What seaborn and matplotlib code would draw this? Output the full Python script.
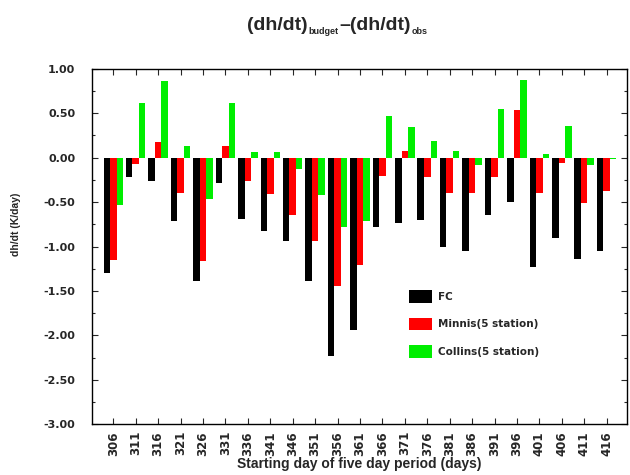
import matplotlib
matplotlib.use("Agg")
import matplotlib.pyplot as plt
import seaborn as sns
import pandas as pd
from matplotlib.ticker import MultipleLocator

days = [306, 311, 316, 321, 326, 331, 336, 341, 346, 351, 356, 361,
        366, 371, 376, 381, 386, 391, 396, 401, 406, 411, 416]
fc = [-1.30, -0.22, -0.26, -0.71, -1.39, -0.28, -0.69, -0.82, -0.94, -1.39, -2.23, -1.94,
      -0.78, -0.73, -0.70, -1.01, -1.05, -0.64, -0.50, -1.23, -0.90, -1.135, -1.05]
minnis = [-1.15, -0.075, 0.18, -0.40, -1.16, 0.13, -0.26, -0.41, -0.64, -0.94, -1.44, -1.21,
          -0.21, 0.07, -0.22, -0.40, -0.40, -0.22, 0.54, -0.40, -0.06, -0.515, -0.38]
collins = [-0.53, 0.62, 0.86, 0.135, -0.47, 0.62, 0.06, 0.06, -0.13, -0.42, -0.78, -0.71,
           0.47, 0.35, 0.19, 0.07, -0.08, 0.545, 0.88, 0.045, 0.36, -0.08, -0.02]
series_names = ["FC", "Minnis(5 station)", "Collins(5 station)"]
colors = ["#000000", "#ff0000", "#00ee00"]
title_parts = [("(dh/dt)", False), ("budget", True), ("–(dh/dt)", False), ("obs", True)]

rows = []
for name, vals in zip(series_names, [fc, minnis, collins]):
    for d, v in zip(days, vals):
        rows.append({"day": str(d), "series": name, "value": v})
df = pd.DataFrame(rows)

sns.set_style("ticks")
plt.rcParams["font.family"] = ["DejaVu Sans"]
plt.rcParams["font.weight"] = "bold"

fig = plt.figure(figsize=(6.3, 4.75), dpi=100)
ax = fig.add_axes([0.146, 0.107, 0.849, 0.748])

sns.barplot(data=df, x="day", y="value", hue="series", palette=colors,
            hue_order=series_names, order=[str(d) for d in days],
            width=0.87, saturation=1, ax=ax, errorbar=None, linewidth=0)

ax.set_ylim(-3.0, 1.0)
ax.set_xlim(-0.95, 22.9)
ax.yaxis.set_major_locator(MultipleLocator(0.5))
ax.yaxis.set_minor_locator(MultipleLocator(0.25))
ax.set_yticklabels([f"{t:.2f}" for t in ax.get_yticks()], fontsize=8, fontweight="bold")
ax.set_xticks(range(len(days)))
ax.set_xticklabels([str(d) for d in days], rotation=90, fontsize=8.5, fontweight="bold")
ax.tick_params(axis="both", which="both", direction="in", top=True, right=True,
               length=4, width=0.8)
ax.tick_params(axis="y", which="minor", length=2.5)
ax.tick_params(axis="y", which="major", pad=12)
ax.tick_params(axis="x", pad=5)
for s in ax.spines.values():
    s.set_linewidth(1.0)
    s.set_color("black")

ax.set_xlabel("Starting day of five day period (days)", fontsize=10, fontweight="bold",
              family="Liberation Sans", labelpad=1)
ax.set_ylabel("dh/dt (K/day)", fontsize=7.5, fontweight="bold", family="Liberation Sans")
ax.yaxis.set_label_coords(-0.133, 0.563)

ax.legend(loc="upper left", bbox_to_anchor=(0.641, 0.40), bbox_transform=fig.transFigure,
          frameon=False, handlelength=2.2, handleheight=1.45,
          labelspacing=1.45, handletextpad=0.6, borderpad=0, prop={"weight": "bold", "size": 7.5})

# title assembled from pieces: large main text with small subscripts
W, H = 630.0, 475.0
fig.canvas.draw()
renderer = fig.canvas.get_renderer()
texts = []
for s, sub in title_parts:
    t = fig.text(0, 0, s, fontsize=6.5 if sub else 14, fontweight="bold",
                 family="Liberation Sans", ha="left", va="center")
    texts.append((t, sub))
widths = [t.get_window_extent(renderer).width for t, _ in texts]
x = 336.0 - sum(widths) / 2.0
for (t, sub), w in zip(texts, widths):
    y = 32.0 if sub else 25.0
    t.set_position((x / W, 1 - y / H))
    x += w + (1.0 if sub else 0.5)

fig.savefig("out.png", dpi=100)
